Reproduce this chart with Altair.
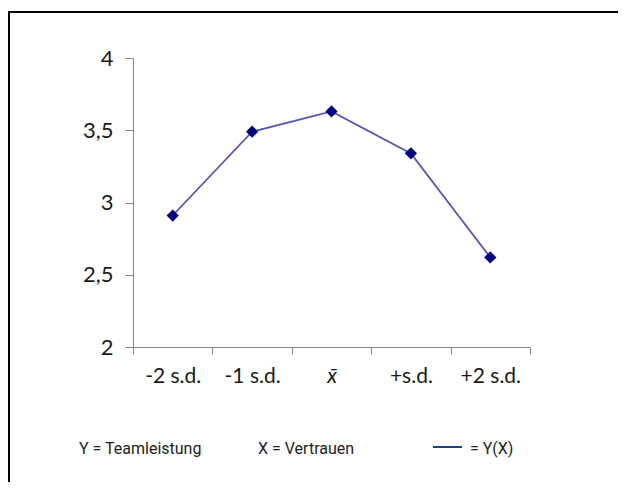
import altair as alt
import pandas as pd

categories = ["-2 s.d.", "-1 s.d.", "x\u0304", "+s.d.", "+2 s.d."]
values = [2.91, 3.49, 3.63, 3.34, 2.62]
y_ticks = [2, 2.5, 3, 3.5, 4]
legend_labels = ["Y = Teamleistung", "X = Vertrauen", "= Y(X)"]

df = pd.DataFrame({"cat": categories, "val": values})

W, H = 397, 289
LEFT, TOP = 125, 50

x_enc = alt.X(
    "cat:N",
    sort=categories,
    title=None,
    scale=alt.Scale(paddingInner=0, paddingOuter=0),
    axis=alt.Axis(
        labelAngle=0,
        tickBand="extent",
        domainColor="#868686",
        tickColor="#868686",
        tickSize=7,
        labelPadding=11,
        labelFont="Lato",
        labelFontSize=21,
        labelColor="#1a1a1a",
        labelFontStyle={"condition": {"test": "datum.value == 'x\u0304'", "value": "italic"}, "value": "normal"},
        grid=False,
    ),
)
y_enc = alt.Y(
    "val:Q",
    title=None,
    scale=alt.Scale(domain=[2, 4], nice=False, zero=False),
    axis=alt.Axis(
        values=y_ticks,
        labelExpr="replace(toString(datum.value), '.', ',')",
        domainColor="#868686",
        tickColor="#868686",
        tickSize=8,
        labelPadding=12,
        labelFont="Lato",
        labelFontSize=22,
        labelColor="#1a1a1a",
        grid=False,
    ),
)

base = alt.Chart(df)
line = base.mark_line(color="#5656B0", strokeWidth=1.8).encode(x=x_enc, y=y_enc)
pts = base.mark_point(shape="diamond", filled=True, color="#000080", size=150, opacity=1).encode(x=x_enc, y=y_enc)

one = pd.DataFrame({"a": [0]})
border_top = alt.Chart(one).mark_rule(color="#000000", strokeWidth=2).encode(
    x=alt.value(-LEFT), x2=alt.value(626 - LEFT), y=alt.value(12 - 8 - TOP)
)
border_left = alt.Chart(one).mark_rule(color="#000000", strokeWidth=2).encode(
    x=alt.value(-LEFT + 1), y=alt.value(12 - 8 - TOP), y2=alt.value(490 - TOP)
)

legend_font = "Roboto"
lt1 = alt.Chart(one).mark_text(align="left", baseline="middle", font=legend_font, fontSize=16, color="#222222").encode(
    x=alt.value(79 - 8 - LEFT), y=alt.value(449 - 8 - TOP), text=alt.value(legend_labels[0])
)
lt2 = alt.Chart(one).mark_text(align="left", baseline="middle", font=legend_font, fontSize=16, color="#222222").encode(
    x=alt.value(258 - 8 - LEFT), y=alt.value(449 - 8 - TOP), text=alt.value(legend_labels[1])
)
lt3 = alt.Chart(one).mark_text(align="left", baseline="middle", font=legend_font, fontSize=16, color="#222222").encode(
    x=alt.value(470 - 8 - LEFT), y=alt.value(449 - 8 - TOP), text=alt.value(legend_labels[2])
)
lline = alt.Chart(one).mark_rule(color="#1F3F7F", strokeWidth=2).encode(
    x=alt.value(433 - 8 - LEFT), x2=alt.value(462 - 8 - LEFT), y=alt.value(447 - 8 - TOP)
)

chart = alt.layer(border_top, border_left, line, pts, lt1, lt2, lt3, lline).properties(
    width=W,
    height=H,
    padding={"left": LEFT, "top": TOP, "right": 610 - LEFT - W, "bottom": 474 - TOP - H},
    autosize=alt.AutoSizeParams(type="none"),
).configure_view(stroke=None)

chart.save("out.html", embed_options={"renderer": "svg", "actions": False})
